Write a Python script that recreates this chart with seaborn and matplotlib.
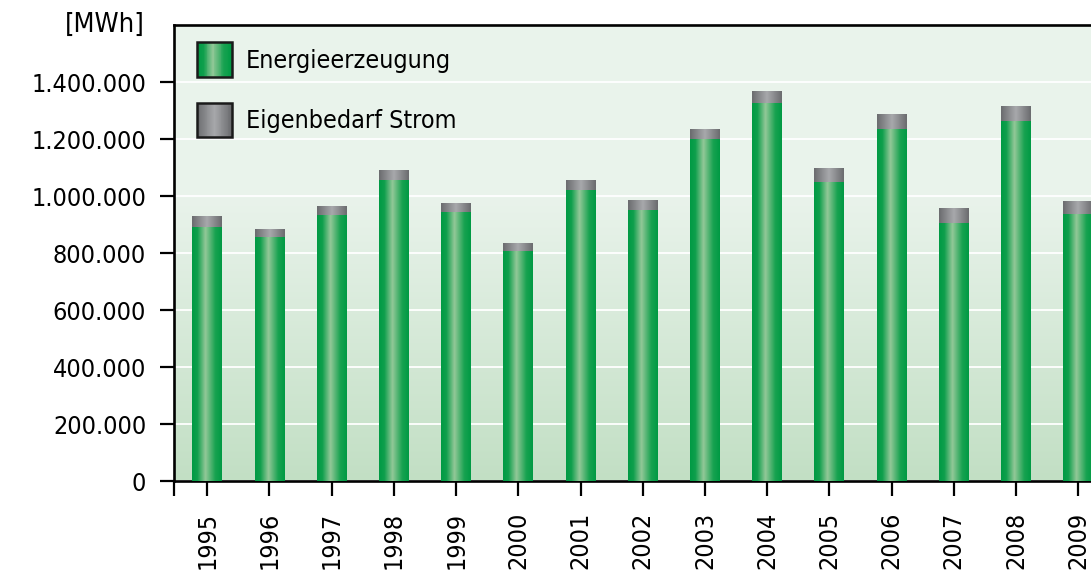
import numpy as np
import pandas as pd
import matplotlib
matplotlib.use("Agg")
import matplotlib.pyplot as plt
import seaborn as sns
from matplotlib.colors import LinearSegmentedColormap
from matplotlib.patches import Rectangle, Patch
from matplotlib.legend_handler import HandlerBase
from matplotlib.ticker import FuncFormatter

# Daten (MWh)
jahre = ['1995', '1996', '1997', '1998', '1999', '2000', '2001', '2002',
         '2003', '2004', '2005', '2006', '2007', '2008', '2009']
energieerzeugung = [891000, 854000, 933000, 1056000, 944000, 807000, 1021000, 951000,
                    1197000, 1326000, 1049000, 1232000, 905000, 1263000, 937000]
eigenbedarf = [39000, 30000, 32000, 33000, 31000, 28000, 32000, 32000,
               38000, 42000, 49000, 56000, 53000, 53000, 45000]
y_ticks = [0, 200000, 400000, 600000, 800000, 1000000, 1200000, 1400000]

df = pd.DataFrame({'Jahr': jahre,
                   'Energieerzeugung': energieerzeugung,
                   'Eigenbedarf': eigenbedarf})
df['Gesamt'] = df['Energieerzeugung'] + df['Eigenbedarf']

sns.set_style("white")
plt.rcParams['font.family'] = ['DejaVu Sans']
plt.rcParams['font.stretch'] = 'condensed'
plt.rcParams['text.color'] = 'black'
plt.rcParams['xtick.color'] = 'black'
plt.rcParams['ytick.color'] = 'black'

# Farbverlaeufe der Saeulen
green_cmap = LinearSegmentedColormap.from_list(
    'gruen', [(0, '#009a44'), (0.18, '#0f9f4c'), (0.45, '#93c898'),
              (0.78, '#17a250'), (1, '#009a44')])
gray_cmap = LinearSegmentedColormap.from_list(
    'grau', [(0, '#6a6b6e'), (0.5, '#a8a9ac'), (1, '#6a6b6e')])
bg_cmap = LinearSegmentedColormap.from_list(
    'hg', [(0, '#c2dfc4'), (0.62, '#e9f3eb'), (1, '#eaf4ec')])

fig = plt.figure(figsize=(10.91, 5.72), dpi=100)
ax = fig.add_axes([0.1595, 0.159, 0.8405, 0.797])

sns.barplot(data=df, x='Jahr', y='Gesamt', color='#8a8b8e', width=0.48,
            ax=ax, zorder=2)
n_gray = len(ax.patches)
sns.barplot(data=df, x='Jahr', y='Energieerzeugung', color='#00a050', width=0.48,
            ax=ax, zorder=3)

grad = np.linspace(0, 1, 256).reshape(1, -1)
for i, p in enumerate(ax.patches):
    cmap = gray_cmap if i < n_gray else green_cmap
    x0, y0, w, h = p.get_x(), p.get_y(), p.get_width(), p.get_height()
    ax.imshow(grad, cmap=cmap, extent=[x0, x0 + w, y0, y0 + h], aspect='auto',
              zorder=p.get_zorder() + 0.1, interpolation='bilinear')
    p.set_facecolor('none')
    p.set_edgecolor('none')

# Hintergrund mit vertikalem Verlauf
bg = np.linspace(0, 1, 256).reshape(-1, 1)
ax.imshow(bg, cmap=bg_cmap, extent=[0, 1, 0, 1], transform=ax.transAxes,
          aspect='auto', origin='lower', zorder=0)

ax.set_xlim(-0.535, 14.207)
ax.set_ylim(0, 1600000)
ax.set_yticks(y_ticks)
ax.yaxis.set_major_formatter(FuncFormatter(lambda v, pos: f"{v:,.0f}".replace(',', '.')))
ax.set_xticks(range(len(jahre)))
ax.set_xticklabels(jahre, rotation=90)
ax.set_xticks([-0.535], minor=True)
ax.set_xlabel('')
ax.set_ylabel('')

ax.set_axisbelow(True)
ax.grid(axis='y', color='white', linewidth=1.3, zorder=0.5)
ax.grid(axis='x', visible=False)

for s in ['left', 'bottom', 'top']:
    ax.spines[s].set_linewidth(1.9)
    ax.spines[s].set_color('black')
ax.spines['right'].set_visible(False)

ax.tick_params(axis='y', direction='out', length=10, width=1.6, pad=10,
               labelsize=18, left=True)
ax.tick_params(axis='x', which='both', direction='out', length=11, width=1.6,
               pad=11, labelsize=18, bottom=True)


class GradientHandler(HandlerBase):
    def __init__(self, cmap):
        super().__init__()
        self.cmap = cmap

    def create_artists(self, legend, orig_handle, xdescent, ydescent,
                       width, height, fontsize, trans):
        n = 40
        arts = []
        for k in range(n):
            arts.append(Rectangle((-xdescent + k * width / n, -ydescent),
                                  width / n * 1.1, height,
                                  facecolor=self.cmap(k / (n - 1)),
                                  edgecolor='none', transform=trans))
        arts.append(Rectangle((-xdescent, -ydescent), width, height,
                              facecolor='none', edgecolor='#1a1a1a',
                              linewidth=1.8, transform=trans))
        return arts


h_green = Patch(label='Energieerzeugung')
h_gray = Patch(label='Eigenbedarf Strom')
ax.legend(handles=[h_green, h_gray],
          handler_map={h_green: GradientHandler(green_cmap),
                       h_gray: GradientHandler(gray_cmap)},
          loc='upper left', bbox_to_anchor=(0.025, 0.962), frameon=False,
          fontsize=18, handlelength=1.4, handleheight=1.72, handletextpad=0.55,
          labelspacing=1.05, borderpad=0, borderaxespad=0)

fig.text(145 / 1091, 1 - 25 / 572, '[MWh]', ha='right', va='center', fontsize=19.5)

fig.savefig('out.png', dpi=100)
